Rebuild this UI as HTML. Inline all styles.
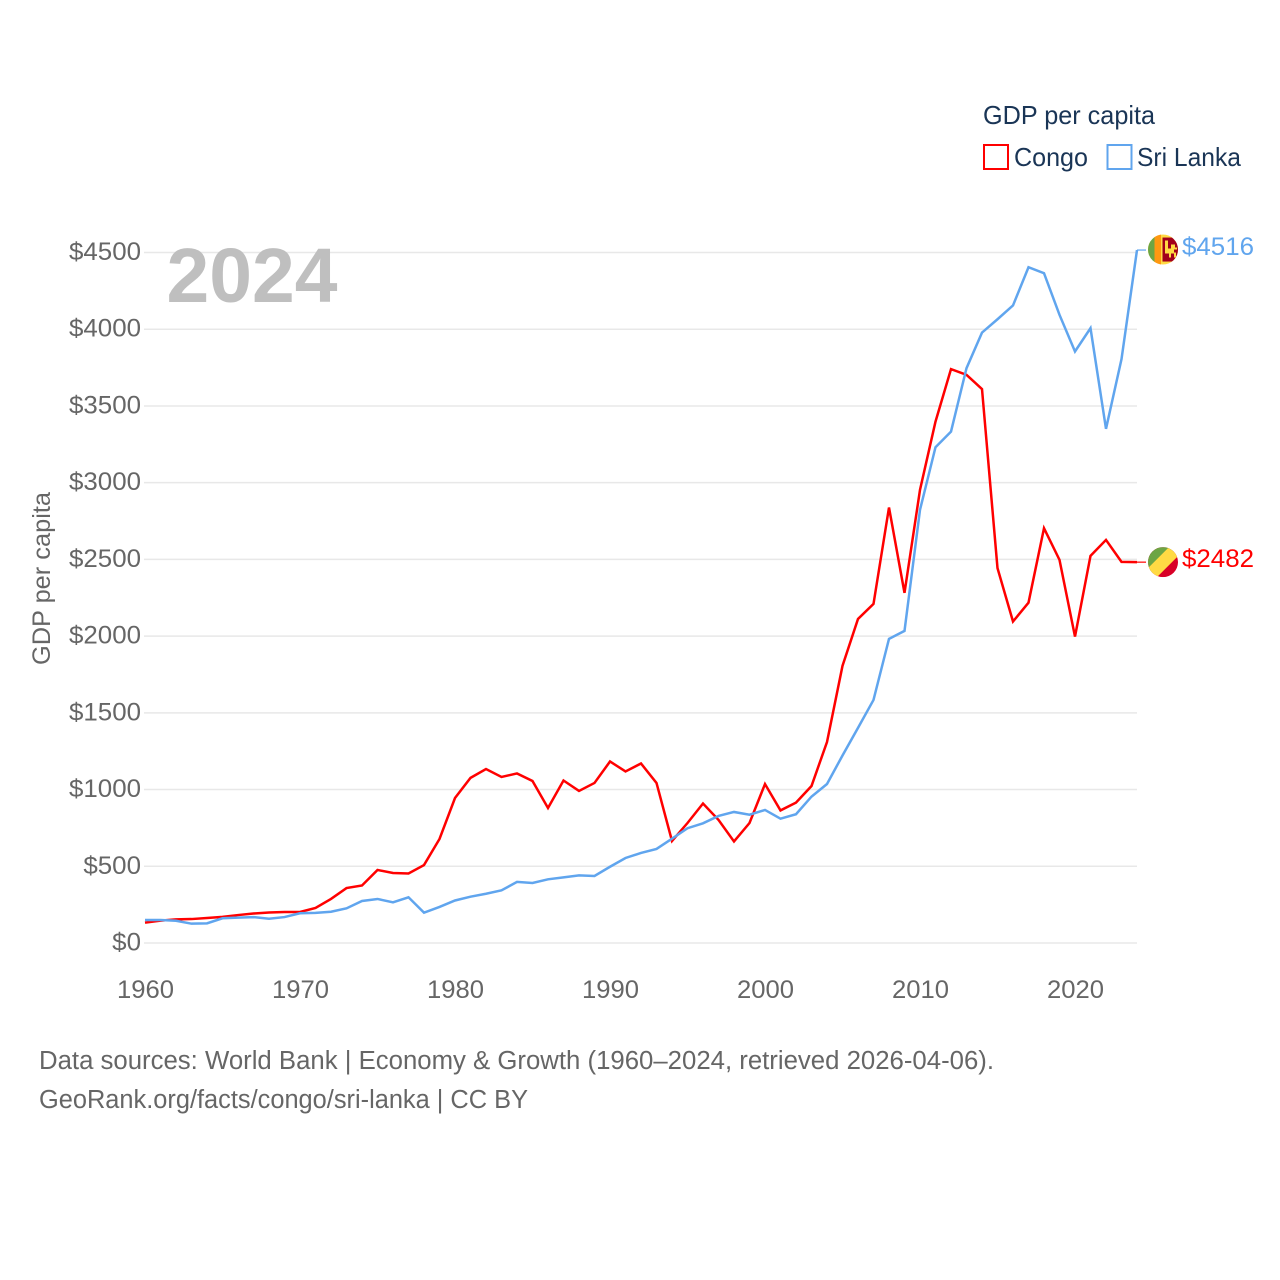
<!DOCTYPE html>
<html lang="en">
<head>
<meta charset="utf-8">
<title>GDP per capita: Congo and Sri Lanka</title>
<style>
  html, body { margin: 0; padding: 0; background: #fff; }
  svg { display: block; font-family: "Liberation Sans", sans-serif; }
</style>
</head>
<body>
<svg id="chart" width="1280" height="1280" viewBox="0 0 1280 1280" xmlns="http://www.w3.org/2000/svg">
  <defs>
    <clipPath id="flag-clip-lk"><circle cx="0" cy="0" r="15"></circle></clipPath>
    <clipPath id="flag-clip-cg"><circle cx="0" cy="0" r="15"></circle></clipPath>
  </defs>

  <g id="grid"></g>
  <g id="y-axis"></g>
  <g id="x-axis"></g>

  <text x="166.500" y="302" font-size="77" font-weight="700" fill="#bfbfbf" textLength="171" lengthAdjust="spacingAndGlyphs">2024</text>

  <g id="series"></g>

  <text transform="translate(50,665) rotate(-90)" font-size="25" fill="#666666" textLength="173" lengthAdjust="spacingAndGlyphs">GDP per capita</text>

  <g>
    <text x="983" y="124" font-size="26" fill="#1a3556" textLength="172" lengthAdjust="spacingAndGlyphs">GDP per capita</text>
    <g>
      <rect x="984" y="145" width="24" height="24" fill="#ffffff" stroke="#ff0000" stroke-width="2"></rect>
      <text x="1014" y="166" font-size="26" fill="#1a3556" textLength="74" lengthAdjust="spacingAndGlyphs">Congo</text>
    </g>
    <g>
      <rect x="1107.500" y="145" width="24" height="24" fill="#ffffff" stroke="#60a5ee" stroke-width="2"></rect>
      <text x="1137" y="166" font-size="26" fill="#1a3556" textLength="104" lengthAdjust="spacingAndGlyphs">Sri Lanka</text>
    </g>
  </g>

  <g id="flag-lk">
    <g clip-path="url(#flag-clip-lk)">
      <rect x="-15" y="-15" width="30" height="30" fill="#ffda44"></rect>
      <rect x="-15" y="-15" width="6.500" height="30" fill="#6da544"></rect>
      <rect x="-8.500" y="-15" width="6.500" height="30" fill="#ff9811"></rect>
      <rect x="-0.500" y="-12" width="15.500" height="24" fill="#a2001c"></rect>
      <path d="M2 -9h3v8h3v-4h4v3h2v2h-3v3h2v5h-2v-4h-3v4h-2v-4h-4z" fill="#ffda44"></path>
    </g>
  </g>
  <g id="flag-cg">
    <g clip-path="url(#flag-clip-cg)">
      <rect x="-15" y="-15" width="30" height="30" fill="#d80027"></rect>
      <polygon points="-15,-15 15,-15 -15,15" fill="#6da544"></polygon>
      <polygon points="6,-15 15,-15 15,-6 -6,15 -15,15 -15,6" fill="#ffda44"></polygon>
    </g>
  </g>
  <g id="end-labels"></g>

  <g>
    <text x="39" y="1069" font-size="25.500" fill="#666666" textLength="955" lengthAdjust="spacingAndGlyphs">Data sources: World Bank | Economy &amp; Growth (1960–2024, retrieved 2026-04-06).</text>
    <text x="39" y="1108" font-size="25.500" fill="#666666" textLength="489" lengthAdjust="spacingAndGlyphs">GeoRank.org/facts/congo/sri-lanka | CC BY</text>
  </g>
</svg>

<script>
const years = [1960,1961,1962,1963,1964,1965,1966,1967,1968,1969,1970,1971,1972,1973,1974,1975,1976,1977,1978,1979,1980,1981,1982,1983,1984,1985,1986,1987,1988,1989,1990,1991,1992,1993,1994,1995,1996,1997,1998,1999,2000,2001,2002,2003,2004,2005,2006,2007,2008,2009,2010,2011,2012,2013,2014,2015,2016,2017,2018,2019,2020,2021,2022,2023,2024];
const congoValues = [133,146,154,156,163,170,182,192,199,202,202,228,287,358,375,476,456,453,508,678,945,1076,1134,1082,1105,1056,880,1059,991,1043,1183,1118,1170,1043,665,782,909,802,662,782,1036,864,915,1023,1310,1806,2112,2210,2838,2282,2953,3398,3740,3703,3610,2443,2095,2218,2703,2497,1997,2523,2627,2484,2482];
const sriLankaValues = [150,150,145,126,128,161,165,169,158,169,194,196,204,226,274,287,265,298,198,235,277,302,321,343,398,391,415,428,441,437,497,554,587,613,680,748,780,828,854,836,867,810,839,954,1036,1222,1402,1584,1982,2034,2823,3231,3333,3746,3978,4065,4155,4404,4365,4094,3855,4007,3351,3805,4516];
const yTickValues = [0,500,1000,1500,2000,2500,3000,3500,4000,4500];
const xTickValues = [1960,1970,1980,1990,2000,2010,2020];

const SVG_NS = 'http://www.w3.org/2000/svg';
const plot = { left: 145, right: 1137, bottom: 943, top: 252.5 };
const xScale = function (year) {
  return plot.left + (year - 1960) * (plot.right - plot.left) / (2024 - 1960);
};
const yScale = function (value) {
  return plot.bottom - value * (plot.bottom - plot.top) / 4500;
};
const make = function (tag, attrs, parent, text) {
  const el = document.createElementNS(SVG_NS, tag);
  Object.keys(attrs).forEach(function (k) { el.setAttribute(k, attrs[k]); });
  if (text !== undefined) { el.textContent = text; }
  parent.appendChild(el);
  return el;
};

const gridGroup = document.getElementById('grid');
const yAxisGroup = document.getElementById('y-axis');
const xAxisGroup = document.getElementById('x-axis');
const seriesGroup = document.getElementById('series');
const endLabelGroup = document.getElementById('end-labels');

yTickValues.forEach(function (v) {
  const y = yScale(v);
  const line = make('line', { x1: plot.left - 1, x2: plot.right, y1: y, y2: y, stroke: '#e8e8e8', 'stroke-width': 1.5 }, gridGroup);
  
  
  const str = '$' + v;
  const label = make('text', { x: 141 - str.length * 14.4, y: y + 7.5, 'font-size': 25, fill: '#666666', textLength: str.length * 14.4, lengthAdjust: 'spacingAndGlyphs' }, yAxisGroup, str);
  
  
});

xTickValues.forEach(function (yr) {
  const label = make('text', { x: xScale(yr) - 28, y: 998, 'font-size': 25, fill: '#666666', textLength: 57, lengthAdjust: 'spacingAndGlyphs' }, xAxisGroup, String(yr));
  
  
});

const toPoints = function (values) {
  return values.map(function (v, i) {
    return xScale(years[i]).toFixed(2) + ',' + yScale(v).toFixed(2);
  }).join(' ');
};

const congoLine = make('polyline', { points: toPoints(congoValues), fill: 'none', stroke: '#ff0000', 'stroke-width': 2.5, 'stroke-linejoin': 'miter' }, seriesGroup);



const sriLankaLine = make('polyline', { points: toPoints(sriLankaValues), fill: 'none', stroke: '#60a5ee', 'stroke-width': 2.5, 'stroke-linejoin': 'miter' }, seriesGroup);



const congoLast = congoValues[congoValues.length - 1];
const sriLankaLast = sriLankaValues[sriLankaValues.length - 1];

const congoConnector = make('line', { x1: plot.right, x2: 1146, y1: yScale(congoLast), y2: yScale(congoLast), stroke: '#ff0000', 'stroke-width': 1.2 }, seriesGroup);



const sriLankaConnector = make('line', { x1: plot.right, x2: 1146, y1: yScale(sriLankaLast), y2: yScale(sriLankaLast), stroke: '#60a5ee', 'stroke-width': 1.2 }, seriesGroup);



document.getElementById('flag-lk').setAttribute('transform', 'translate(1163,' + (yScale(sriLankaLast) - 0.5) + ')');
document.getElementById('flag-cg').setAttribute('transform', 'translate(1163,' + yScale(congoLast) + ')');

const congoEnd = make('text', { x: 1182, y: yScale(congoLast) + 5, 'font-size': 25, fill: '#ff0000', textLength: 72, lengthAdjust: 'spacingAndGlyphs' }, endLabelGroup, '$' + congoLast);



const sriLankaEnd = make('text', { x: 1182, y: yScale(sriLankaLast) + 5, 'font-size': 25, fill: '#60a5ee', textLength: 72, lengthAdjust: 'spacingAndGlyphs' }, endLabelGroup, '$' + sriLankaLast);


</script>
</body>
</html>
